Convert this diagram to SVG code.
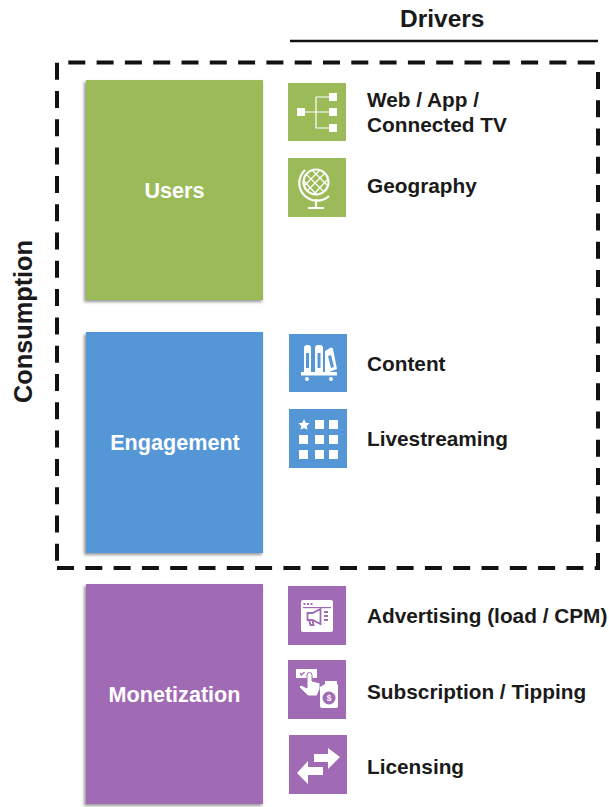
<svg xmlns="http://www.w3.org/2000/svg" width="609" height="807" viewBox="0 0 609 807">
<style>
text{font-family:"Liberation Sans",Arial,sans-serif;font-weight:700;font-size:20.8px;fill:#1a1a1a}
.big{fill:#fff;text-anchor:middle;font-size:21.600px}
.hd{font-size:24.5px}
.g{fill:#9bbb59}.b{fill:#5596d6}.p{fill:#a06ab4}
.w{fill:#fff}
.ln{fill:none;stroke:#fff;stroke-width:1.200}
.th{fill:none;stroke:#fff;stroke-width:2.200}
.d{fill:none;stroke:#111;stroke-width:4;stroke-dasharray:17 11.300}
</style>
<defs>
<filter id="sh" x="-10%" y="-5%" width="115%" height="110%"><feGaussianBlur stdDeviation="1.600"/></filter>
</defs>
<rect width="609" height="807" fill="#fff"/>
<g id="connectors">
<line x1="290" y1="41" x2="598" y2="41" stroke="#111" stroke-width="2.400"/>
<path class="d" d="M68.300 62.500H596"/>
<path class="d" d="M57 62.700V562"/>
<path class="d" d="M57 568H597"/>
<path class="d" d="M598 570V70"/>
</g>
<text class="hd" x="400" y="27">Drivers</text>
<text class="hd" style="font-size:25.3px" transform="translate(32,403) rotate(-90)">Consumption</text>
<g id="users">
<rect x="84" y="82" width="178" height="220" fill="#555" opacity=".6" filter="url(#sh)"/>
<rect class="g" x="86" y="80" width="177" height="220"/>
<text class="big" x="174.500" y="198">Users</text>
</g>
<g id="engagement">
<rect x="84" y="334" width="178" height="221" fill="#555" opacity=".6" filter="url(#sh)"/>
<rect class="b" x="86" y="332" width="177" height="221"/>
<text class="big" x="175" y="450">Engagement</text>
</g>
<g id="monetization">
<rect x="84" y="586" width="178" height="220" fill="#555" opacity=".6" filter="url(#sh)"/>
<rect class="p" x="86" y="584" width="177" height="220"/>
<text class="big" x="174.500" y="702">Monetization</text>
</g>
<g id="web-app">
<rect class="g" x="288" y="83" width="58" height="58"/>
<rect class="w" x="297" y="108" width="8" height="8"/>
<rect class="w" x="329" y="93" width="8" height="8"/>
<rect class="w" x="329" y="108" width="8" height="8"/>
<rect class="w" x="329" y="124" width="8" height="8"/>
<path class="ln" d="M305 112H329M316 97H329M316 97V128H329"/>
<text x="367" y="107">Web / App /</text>
<text x="367" y="132">Connected TV</text>
</g>
<g id="geography">
<rect class="g" x="288" y="158" width="58" height="59"/>
<circle class="th" cx="316" cy="182" r="12.500"/>
<path class="ln" d="M306 174L324 192M303 180L317 195M312 170L328 186M325 173L307 191M328 179L314 194M320 170L304 186"/>
<path class="th" d="M305 170A17 17 0 0 0 329 196M316 199V207M308 208H324"/>
<text x="367" y="193">Geography</text>
</g>
<g id="content">
<rect class="b" x="289" y="334" width="58" height="58"/>
<path class="w" d="M304 348a3 3 0 0 1 3-3h1a3 3 0 0 1 3 3v24h-7zM315 348a3 3 0 0 1 3-3h2a3 3 0 0 1 3 3v24h-8z"/>
<path class="w" d="M325 351l5-3a2 2 0 0 1 3 1l4 20-8 3h-4z"/>
<rect class="b" x="306" y="353" width="3" height="15"/>
<rect class="b" x="317.500" y="353" width="3" height="15"/>
<path class="b" d="M328 356l3-1 3 12-3 1z"/>
<rect class="w" x="301" y="372" width="36" height="3.500"/>
<circle class="w" cx="307" cy="379" r="2"/>
<circle class="w" cx="331" cy="379" r="2"/>
<text x="367" y="371">Content</text>
</g>
<g id="livestreaming">
<rect class="b" x="289" y="409" width="58" height="59"/>
<path class="w" d="M304 419l1.700 3.700 3.900.5-2.800 2.700.7 3.900-3.500-1.900-3.500 1.900.7-3.900-2.800-2.700 3.900-.5z"/>
<rect class="w" x="315" y="420" width="9" height="9"/><rect class="w" x="329" y="420" width="9" height="9"/>
<rect class="w" x="299" y="435" width="9" height="9"/><rect class="w" x="315" y="435" width="9" height="9"/><rect class="w" x="329" y="435" width="9" height="9"/>
<rect class="w" x="299" y="450" width="9" height="9"/><rect class="w" x="315" y="450" width="9" height="9"/><rect class="w" x="329" y="450" width="9" height="9"/>
<text x="367" y="446">Livestreaming</text>
</g>
<g id="advertising">
<rect class="p" x="288" y="586" width="58" height="59"/>
<rect class="w" x="301" y="600" width="32" height="32" rx="2"/>
<rect class="p" x="303" y="607" width="28" height="1.200"/>
<rect class="p" x="303.500" y="603" width="2" height="2"/><rect class="p" x="307" y="603" width="2" height="2"/><rect class="p" x="310.500" y="603" width="2" height="2"/>
<path d="M307.500 613h5l8-4v15l-8-4h-5zM309 620l1.500 5h3l-1-5" fill="none" stroke="#a06ab4" stroke-width="1.800"/>
<path d="M324 612h4M324 616h4M324 620h4" stroke="#a06ab4" stroke-width="1.800"/>
<text x="367" y="623">Advertising (load / CPM)</text>
</g>
<g id="subscription">
<rect class="p" x="288" y="660" width="58" height="59"/>
<rect class="w" x="296" y="669" width="21" height="9"/>
<path d="M300 673l1.500 2 3-3" fill="none" stroke="#a06ab4" stroke-width="1.300"/>
<path class="w" d="M307 675a2.500 2.500 0 0 1 5 0v6l8 2v6l-3 7h-9l-9-9 2-2 6 3z" stroke="#a06ab4" stroke-width="1"/>
<path class="w" d="M325 681h12v3l1 1v21a2 2 0 0 1-2 2h-14a2 2 0 0 1-2-2v-19l5-3z"/>
<circle class="p" cx="329" cy="698" r="6.500"/>
<text x="329" y="701" style="font-size:8.500px;fill:#fff;text-anchor:middle">$</text>
<text x="367" y="699">Subscription / Tipping</text>
</g>
<g id="licensing">
<rect class="p" x="289" y="735" width="58" height="59"/>
<path class="w" d="M314 754H328V748L340 757 328 769V762H314z"/>
<path class="w" d="M323 767H308V761L297 773 308 784V775H323z"/>
<text x="367" y="774">Licensing</text>
</g>
</svg>
